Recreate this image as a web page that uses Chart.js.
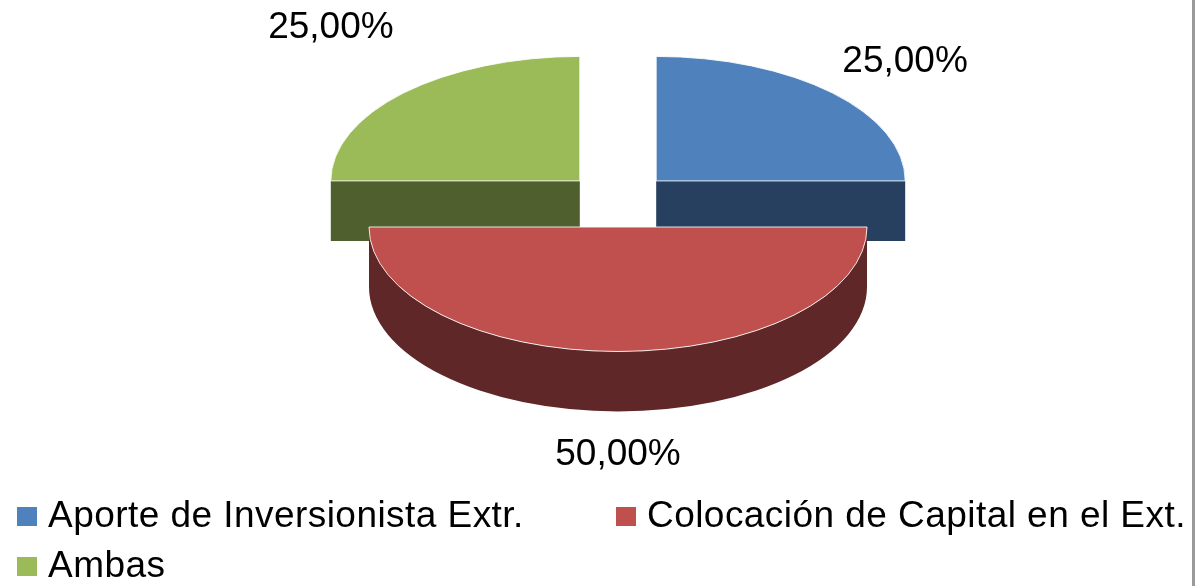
<!DOCTYPE html>
<html>
<head>
<meta charset="utf-8">
<script src="https://cdn.jsdelivr.net/npm/chart.js@4/dist/chart.umd.min.js"></script>
<style>
  body { margin: 0; background: #fff; }
  #wrap { position: relative; width: 1198px; height: 586px; overflow: hidden; }
  #frame { position: absolute; left: 1192px; top: 0; width: 3px; height: 586px; background: #9a9a9a; }
  #legend {
    position: absolute; left: 17px; top: 490px;
    display: grid; grid-template-columns: 599px auto; grid-auto-rows: 50px;
    font: 37px "Liberation Sans", Arial, sans-serif; letter-spacing: 0.45px; color: #000;
  }
  .item { display: flex; align-items: flex-start; line-height: 50px; white-space: nowrap; }
  .box { width: 20px; height: 19px; margin-top: 17px; margin-right: 11px; flex: none; }
</style>
</head>
<body>
<div id="wrap">
  <canvas id="pieChart" width="1198" height="586"></canvas>
  <div id="frame"></div>
  <div id="legend"></div>
</div>
<script>
// pie data
const categories = ["Aporte de Inversionista Extr.", "Colocación de Capital en el Ext.", "Ambas"];
const values = [25, 50, 25];
const topColors = ["#4F81BD", "#C0504D", "#9BBB59"];
const sideColors = ["#284060", "#5F2727", "#4F5F2D"];

const TILT = 0.5;     // vertical squash of the disc
const DEPTH = 60;     // thickness in px
const EXPLODE = 54;   // slice pull-out

function sector(ctx, x, y, rx, ry, a0, a1) {
  ctx.beginPath();
  ctx.moveTo(x, y);
  ctx.ellipse(x, y, rx, ry, 0, a0, a1);
  ctx.closePath();
}

function slicePos(a) {
  const m = (a.startAngle + a.endAngle) / 2;
  return { m, x: a.x + Math.cos(m) * EXPLODE, y: a.y + Math.sin(m) * EXPLODE * TILT };
}

// sides of one slice: the two cut faces and the front part of the rim
function drawSides(ctx, p, rx, ry, a0, a1) {
  [a0, a1].forEach(a => {
    const ex = p.x + Math.cos(a) * rx, ey = p.y + Math.sin(a) * ry;
    ctx.beginPath();
    ctx.moveTo(p.x, p.y);
    ctx.lineTo(ex, ey);
    ctx.lineTo(ex, ey + DEPTH);
    ctx.lineTo(p.x, p.y + DEPTH);
    ctx.closePath();
    ctx.fill();
  });
  for (let k = -1; k <= 1; k++) {
    const lo = Math.max(a0, 2 * Math.PI * k), hi = Math.min(a1, 2 * Math.PI * k + Math.PI);
    if (hi <= lo) continue;
    ctx.beginPath();
    ctx.ellipse(p.x, p.y, rx, ry, 0, lo, hi);
    ctx.ellipse(p.x, p.y + DEPTH, rx, ry, 0, hi, lo, true);
    ctx.closePath();
    ctx.fill();
  }
}

const pie3d = {
  id: "pie3d",
  beforeDatasetsDraw(chart) {
    const ctx = chart.ctx;
    const arcs = chart.getDatasetMeta(0).data;
    // back slices first
    const order = arcs.map((a, i) => i).sort((i, j) => Math.sin(slicePos(arcs[i]).m) - Math.sin(slicePos(arcs[j]).m));
    ctx.save();
    order.forEach(i => {
      const a = arcs[i];
      const p = slicePos(a);
      const rx = a.outerRadius, ry = rx * TILT;
      ctx.fillStyle = sideColors[i];
      drawSides(ctx, p, rx, ry, a.startAngle, a.endAngle);
      sector(ctx, p.x, p.y, rx, ry, a.startAngle, a.endAngle);
      ctx.fillStyle = topColors[i];
      ctx.fill();
      ctx.strokeStyle = "rgba(255,255,255,0.85)";
      ctx.lineWidth = 1;
      ctx.stroke();
    });
    ctx.restore();
    return false;
  },
  afterDraw(chart) {
    const ctx = chart.ctx;
    const arcs = chart.getDatasetMeta(0).data;
    const total = values.reduce((s, v) => s + v, 0);
    ctx.save();
    ctx.font = '37px "Liberation Sans", Arial, sans-serif';
    ctx.fillStyle = "#000";
    ctx.textAlign = "center";
    ctx.textBaseline = "middle";
    arcs.forEach((a, i) => {
      const m = (a.startAngle + a.endAngle) / 2;
      const L = a.outerRadius + EXPLODE + 103;
      let x = a.x + Math.cos(m) * L;
      let y = a.y + Math.sin(m) * L * 0.48;
      if (Math.sin(m) > 0) y += DEPTH;
      if (Math.cos(m) < 0 && Math.sin(m) < 0) y -= 34;
      const txt = (values[i] / total * 100).toFixed(2).replace(".", ",") + "%";
      ctx.fillText(txt, x, y);
    });
    ctx.restore();
  }
};

new Chart(document.getElementById("pieChart"), {
  type: "pie",
  data: {
    labels: categories,
    datasets: [{
      data: values,
      backgroundColor: topColors,
      borderWidth: 0,
    }],
  },
  options: {
    responsive: false,
    animation: false,
    radius: 249,
    layout: { padding: { left: 38, right: 0, top: 0, bottom: 186 } },
    plugins: {
      legend: { display: false },
      tooltip: { enabled: false },
    },
  },
  plugins: [pie3d],
});

const legend = document.getElementById("legend");
categories.forEach((c, i) => {
  const item = document.createElement("div");
  item.className = "item";
  const box = document.createElement("span");
  box.className = "box";
  box.style.background = topColors[i];
  const label = document.createElement("span");
  label.textContent = c;
  item.appendChild(box);
  item.appendChild(label);
  legend.appendChild(item);
});
</script>
</body>
</html>
